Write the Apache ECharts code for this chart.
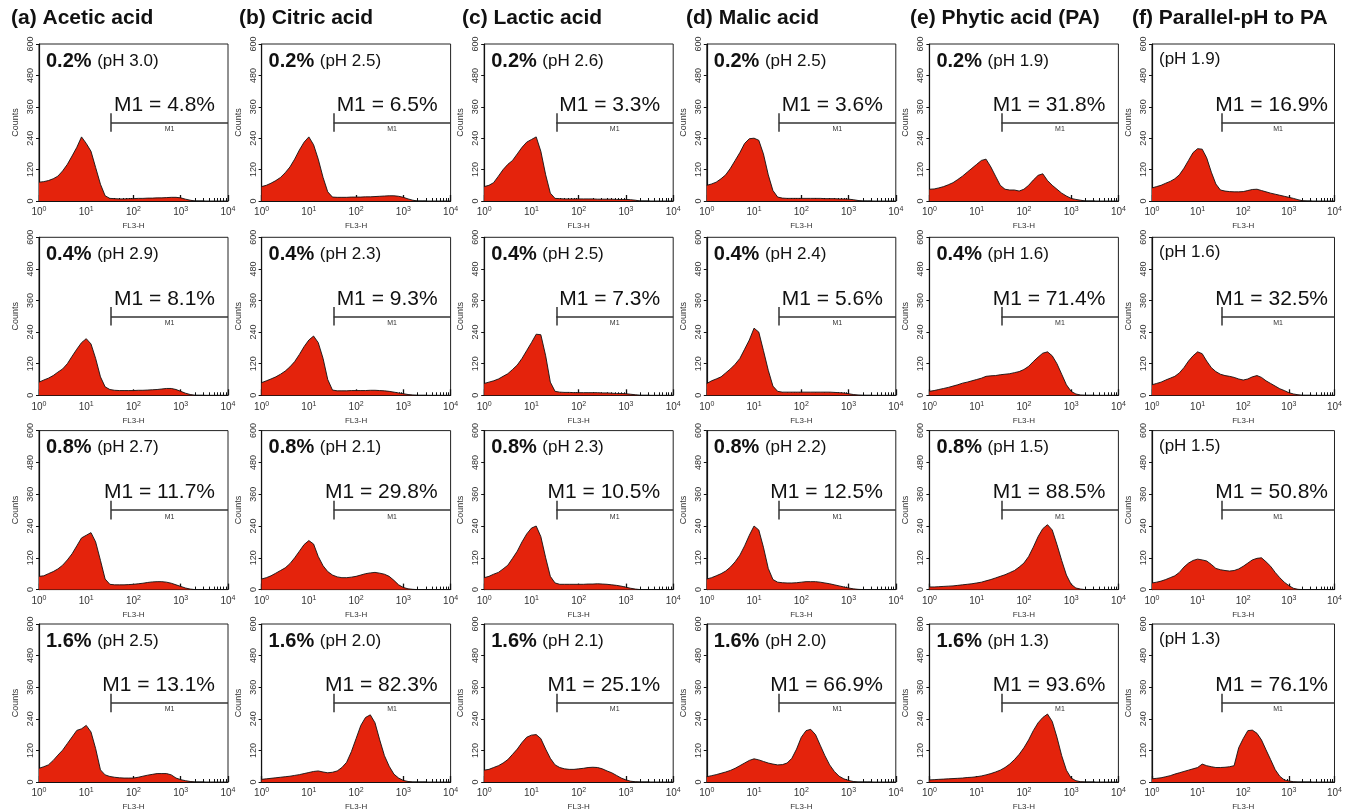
<!DOCTYPE html>
<html>
<head>
<meta charset="utf-8">
<script src="https://cdn.jsdelivr.net/npm/echarts@6/dist/echarts.min.js"></script>
<style>
  html, body { margin: 0; padding: 0; background: #fff; }
  #chart { width: 1345px; height: 812px; }
</style>
</head>
<body>
<div id="chart"></div>
<script>
// FL3-H bin centres (log spaced)
const bins = [1, 1.26, 1.58, 2, 2.51, 3.16, 3.98, 5.01, 6.31, 7.94, 10, 12.6, 15.8, 20, 25.1, 31.6, 39.8, 50.1, 63.1, 79.4,
  100, 126, 158, 200, 251, 316, 398, 501, 631, 794, 1000, 1259, 1585, 1995, 2512, 3162];

// minor ticks of the FL3-H log axis
const minorTickValues = [2, 3, 4, 5, 6, 7, 8, 9, 20, 30, 40, 50, 60, 70, 80, 90,
  200, 300, 400, 500, 600, 700, 800, 900, 2000, 3000, 4000, 5000, 6000, 7000, 8000, 9000];

const columnTitles = ["(a) Acetic acid", "(b) Citric acid", "(c) Lactic acid", "(d) Malic acid", "(e) Phytic acid (PA)", "(f) Parallel-pH to PA"];
const concentrations = ["0.2%", "0.4%", "0.8%", "1.6%"];
const gateStart = 33.5;
const gateEnd = 10000;
const gateLevel = 300;
const gateTick = [265, 335];

const pHLabels = [
  ["3.0", "2.9", "2.7", "2.5"],
  ["2.5", "2.3", "2.1", "2.0"],
  ["2.6", "2.5", "2.3", "2.1"],
  ["2.5", "2.4", "2.2", "2.0"],
  ["1.9", "1.6", "1.5", "1.3"],
  ["1.9", "1.6", "1.5", "1.3"],
];

const m1Values = [
  ["4.8", "8.1", "11.7", "13.1"],
  ["6.5", "9.3", "29.8", "82.3"],
  ["3.3", "7.3", "10.5", "25.1"],
  ["3.6", "5.6", "12.5", "66.9"],
  ["31.8", "71.4", "88.5", "93.6"],
  ["16.9", "32.5", "50.8", "76.1"],
];

const aceticCounts = [
  [72, 74, 78, 85, 95, 115, 140, 172, 205, 245, 220, 190, 128, 64, 20, 10, 9, 8, 8, 9, 9, 10, 10, 11, 11, 12, 12, 13, 14, 14, 12, 7, 3, 0, 0, 0],
  [50, 58, 65, 75, 88, 100, 120, 148, 175, 200, 215, 195, 140, 70, 32, 22, 19, 18, 18, 18, 18, 19, 19, 20, 21, 22, 24, 26, 26, 22, 15, 8, 3, 0, 0, 0],
  [50, 52, 60, 68, 78, 92, 112, 135, 165, 195, 205, 215, 180, 110, 40, 20, 18, 18, 18, 19, 20, 22, 24, 27, 29, 30, 30, 28, 24, 18, 12, 6, 2, 0, 0, 0],
  [52, 58, 65, 82, 102, 121, 146, 171, 196, 202, 215, 190, 127, 46, 27, 21, 18, 16, 15, 15, 15, 18, 22, 26, 29, 32, 32, 32, 27, 15, 9, 5, 2, 0, 0, 0],
];
const citricCounts = [
  [55, 60, 68, 78, 90, 108, 130, 160, 195, 225, 245, 215, 160, 90, 35, 15, 14, 14, 14, 15, 15, 15, 16, 16, 17, 18, 19, 20, 20, 18, 14, 8, 3, 0, 0, 0],
  [48, 55, 62, 70, 80, 92, 108, 128, 155, 185, 210, 225, 200, 140, 60, 20, 17, 17, 17, 18, 18, 18, 18, 19, 19, 18, 17, 15, 12, 9, 6, 3, 1, 0, 0, 0],
  [40, 45, 52, 62, 72, 82, 98, 120, 145, 170, 185, 172, 125, 90, 68, 55, 48, 45, 45, 47, 50, 55, 60, 63, 65, 62, 58, 50, 35, 18, 8, 3, 1, 0, 0, 0],
  [10, 12, 14, 16, 18, 20, 22, 25, 28, 32, 36, 40, 42, 38, 35, 37, 42, 55, 75, 115, 165, 215, 245, 255, 225, 160, 100, 60, 30, 15, 6, 2, 0, 0, 0, 0],
];
const lacticCounts = [
  [55, 60, 70, 95, 120, 140, 155, 180, 205, 225, 235, 245, 190, 100, 30, 10, 9, 8, 8, 8, 8, 8, 8, 8, 7, 7, 7, 7, 6, 6, 6, 5, 3, 0, 0, 0],
  [45, 50, 55, 62, 72, 82, 98, 115, 140, 170, 200, 232, 230, 150, 50, 15, 12, 11, 11, 10, 10, 10, 10, 10, 10, 9, 9, 8, 7, 7, 6, 4, 2, 0, 0, 0],
  [45, 50, 58, 65, 78, 92, 118, 145, 180, 210, 232, 240, 200, 120, 50, 25, 20, 20, 20, 20, 20, 20, 21, 21, 22, 21, 20, 18, 16, 13, 9, 5, 2, 0, 0, 0],
  [45, 48, 55, 62, 72, 85, 105, 125, 150, 170, 178, 180, 165, 125, 90, 65, 55, 50, 48, 48, 50, 52, 55, 56, 55, 50, 42, 35, 25, 15, 8, 3, 1, 0, 0, 0],
];
const malicCounts = [
  [60, 65, 72, 85, 100, 125, 155, 185, 220, 238, 240, 232, 180, 100, 40, 15, 11, 10, 10, 10, 10, 10, 10, 10, 10, 9, 9, 9, 8, 8, 7, 5, 2, 0, 0, 0],
  [45, 55, 62, 70, 85, 100, 118, 140, 175, 210, 255, 240, 170, 95, 35, 15, 12, 12, 12, 12, 12, 12, 12, 12, 12, 12, 12, 11, 10, 9, 6, 3, 1, 0, 0, 0],
  [40, 45, 52, 60, 70, 85, 105, 130, 165, 205, 240, 225, 160, 80, 38, 28, 26, 25, 25, 26, 28, 30, 30, 30, 28, 25, 22, 18, 14, 10, 6, 3, 1, 0, 0, 0],
  [20, 24, 28, 33, 38, 44, 52, 62, 72, 82, 88, 84, 78, 72, 68, 65, 66, 72, 90, 125, 170, 195, 200, 180, 140, 100, 65, 40, 22, 12, 6, 2, 0, 0, 0, 0],
];
const phyticCounts = [
  [45, 46, 50, 55, 62, 70, 82, 95, 110, 125, 140, 155, 160, 130, 95, 60, 45, 42, 42, 38, 45, 60, 80, 98, 104, 78, 60, 45, 30, 19, 10, 6, 3, 0, 0, 0],
  [15, 18, 22, 26, 30, 35, 40, 46, 50, 55, 60, 65, 72, 74, 75, 78, 80, 82, 86, 90, 98, 110, 128, 145, 160, 165, 150, 120, 80, 40, 15, 5, 1, 0, 0, 0],
  [10, 10, 11, 12, 13, 14, 16, 18, 20, 22, 25, 28, 33, 38, 44, 50, 56, 64, 72, 85, 100, 125, 160, 200, 230, 245, 225, 170, 110, 55, 20, 6, 2, 0, 0, 0],
  [8, 9, 10, 11, 12, 13, 14, 15, 17, 18, 20, 23, 27, 32, 38, 45, 55, 68, 85, 105, 130, 160, 195, 225, 245, 258, 230, 170, 100, 45, 15, 5, 1, 0, 0, 0],
];
const parallelCounts = [
  [50, 55, 60, 68, 75, 85, 100, 125, 155, 185, 200, 198, 165, 110, 65, 42, 38, 36, 35, 35, 36, 40, 44, 45, 40, 35, 30, 26, 22, 18, 14, 10, 5, 1, 0, 0],
  [40, 45, 50, 58, 65, 72, 85, 105, 130, 150, 165, 158, 130, 105, 90, 80, 75, 72, 68, 62, 58, 62, 70, 75, 68, 55, 45, 35, 25, 18, 10, 5, 2, 0, 0, 0],
  [25, 28, 32, 38, 45, 52, 65, 85, 100, 110, 115, 112, 108, 95, 80, 75, 72, 70, 72, 78, 88, 100, 112, 118, 120, 105, 88, 65, 45, 28, 15, 5, 1, 0, 0, 0],
  [12, 14, 16, 20, 24, 30, 35, 40, 45, 50, 55, 68, 62, 58, 55, 55, 56, 58, 62, 130, 165, 195, 197, 185, 160, 122, 85, 47, 22, 8, 4, 1, 0, 0, 0, 0],
];

const allCounts = [aceticCounts, citricCounts, lacticCounts, malicCounts, phyticCounts, parallelCounts];

// layout
const colLeft = [39, 261.6, 484.2, 706.8, 929.4, 1152];
const titleLeft = [11, 239, 462, 686, 910, 1132];
const plotWidth = 189;
const rowTop = [44, 237.3, 430.6, 624];
const rowHeight = [157, 158, 159, 160];

const red = "#e4230c";
const ink = "#111";
const font = "'Liberation Sans', Arial, sans-serif";

const grids = [], xAxes = [], minorAxes = [], yAxes = [], series = [], graphics = [];

for (let c = 0; c < 6; c++) {
  graphics.push({
    type: "text", left: titleLeft[c], top: 8,
    style: { text: columnTitles[c], font: "bold 21px " + font, fill: ink },
  });
  for (let r = 0; r < 4; r++) {
    const idx = grids.length;
    const left = colLeft[c], top = rowTop[r], h = rowHeight[r];
    grids.push({ left, top, width: plotWidth, height: h, show: true, borderColor: "#222", borderWidth: 1 });
    xAxes.push({
      type: "log", gridIndex: idx, min: 1, max: 10000, logBase: 10,
      name: "FL3-H", nameLocation: "middle", nameGap: 21,
      nameTextStyle: { fontSize: 8, color: "#333", fontFamily: font },
      axisLine: { lineStyle: { color: ink, width: 1.2 } },
      axisTick: { inside: true, length: 6, lineStyle: { color: ink, width: 1.3 } },
      splitLine: { show: false },
      axisLabel: {
        margin: 5, color: "#333",
        formatter: (v) => "{b|10}{s|" + Math.round(Math.log10(v)) + "}",
        rich: {
          b: { fontSize: 10, fontFamily: font, color: "#333" },
          s: { fontSize: 7, fontFamily: font, color: "#333", padding: [0, 0, 6, 0] },
        },
      },
    });
    // companion axis carrying the 2..9 minor ticks at their log positions
    minorAxes.push({
      type: "value", gridIndex: idx, min: 0, max: 4, position: "bottom",
      axisLine: { show: false },
      axisLabel: { show: false },
      splitLine: { show: false },
      axisTick: { show: true, inside: true, length: 3, customValues: minorTickValues.map(Math.log10), lineStyle: { color: ink, width: 1 } },
    });
    yAxes.push({
      type: "value", gridIndex: idx, min: 0, max: 600, interval: 120,
      name: "Counts", nameLocation: "middle", nameGap: 19, nameRotate: 90,
      nameTextStyle: { fontSize: 9, color: "#333", fontFamily: font },
      axisLine: { show: true, lineStyle: { color: ink, width: 1.2 } },
      axisTick: { show: true, length: 3, lineStyle: { color: ink } },
      splitLine: { show: false },
      axisLabel: { rotate: 90, fontSize: 9, margin: 4, color: "#333", fontFamily: font },
    });
    const counts = allCounts[c][r];
    series.push({
      type: "line", xAxisIndex: idx, yAxisIndex: idx,
      data: bins.map((b, i) => [b, counts[i]]),
      symbol: "none", smooth: false,
      lineStyle: { color: ink, width: 0.9 },
      areaStyle: { color: red, opacity: 1 },
      silent: true,
      markLine: {
        silent: true, symbol: "none",
        lineStyle: { color: "#333", width: 1.5, type: "solid" },
        data: [
          [
            { coord: [gateStart, gateLevel], label: { show: true, formatter: "M1", position: "insideMiddleBottom", fontSize: 7, color: "#333", distance: 3 } },
            { coord: [gateEnd, gateLevel] },
          ],
          [
            { coord: [gateStart, gateTick[0]], label: { show: false } },
            { coord: [gateStart, gateTick[1]] },
          ],
        ],
      },
    });
    // concentration + pH label
    const labelText = c < 5
      ? "{b|" + concentrations[r] + " }{n|(pH " + pHLabels[c][r] + ")}"
      : "{n|(pH " + pHLabels[c][r] + ")}";
    graphics.push({
      type: "text", left: left + 7, top: top + 7,
      style: {
        text: labelText,
        rich: {
          b: { font: "bold 20px " + font, fill: ink },
          n: { font: "17px " + font, fill: ink },
        },
      },
    });
    graphics.push({
      type: "text", right: 1345 - (left + plotWidth - 13), top: top + 51,
      style: { text: "M1 = " + m1Values[c][r] + "%", font: "21px " + font, fill: ink },
    });
  }
}

const chart = echarts.init(document.getElementById("chart"), null, { renderer: "canvas" });
chart.setOption({
  animation: false,
  backgroundColor: "#fff",
  grid: grids,
  xAxis: xAxes.concat(minorAxes),
  yAxis: yAxes,
  series,
  graphic: graphics,
});
</script>
</body>
</html>
